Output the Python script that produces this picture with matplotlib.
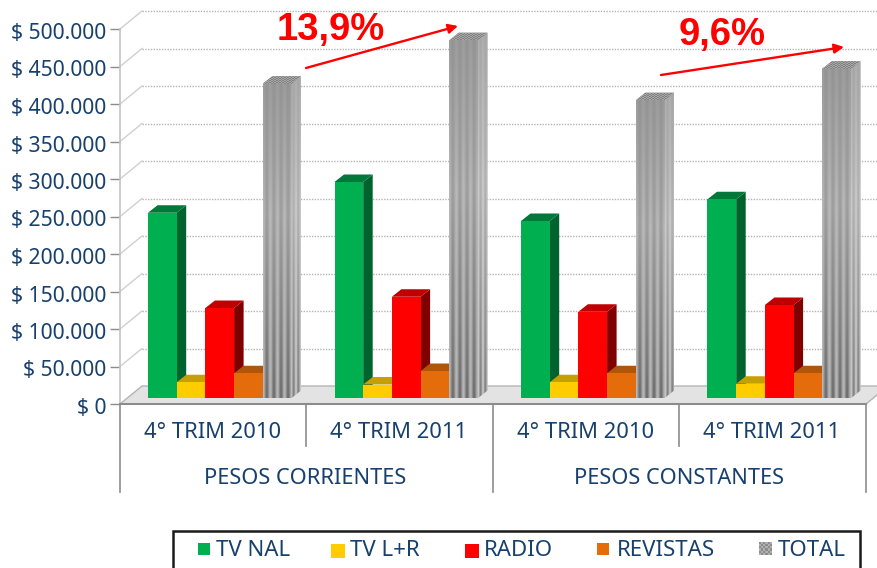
import matplotlib
matplotlib.use("Agg")
import matplotlib.pyplot as plt
from matplotlib.patches import Polygon, Rectangle
from matplotlib.transforms import ScaledTranslation
import numpy as np

# Data
periods = ["4° TRIM 2010", "4° TRIM 2011", "4° TRIM 2010", "4° TRIM 2011"]
groups = ["PESOS CORRIENTES", "PESOS CONSTANTES"]
series = ["TV NAL", "TV L+R", "RADIO", "REVISTAS", "TOTAL"]
tv_nal = [247000, 288000, 236000, 265000]
tv_lr = [21000, 18000, 21000, 19000]
radio = [120000, 135000, 115000, 124000]
revistas = [33000, 36000, 33000, 33000]
total = [419000, 477000, 397000, 439000]
y_ticks = [0, 50000, 100000, 150000, 200000, 250000, 300000, 350000, 400000, 450000, 500000]
y_labels = ["$ 0", "$ 50.000", "$ 100.000", "$ 150.000", "$ 200.000", "$ 250.000",
            "$ 300.000", "$ 350.000", "$ 400.000", "$ 450.000", "$ 500.000"]

colors = ["#00b050", "#ffcc00", "#ff0000", "#e46c0a", "#a6a6a6"]
sides = ["#00622c", "#b89400", "#800000", "#a5500a", "#bdbdbd"]
tops = ["#00783a", "#c4a000", "#c00000", "#b0560a", "#8c8c8c"]
text_color = "#17406e"
W, H = 878, 568
font = "Noto Sans"

fig = plt.figure(figsize=(W / 100, H / 100), dpi=100)
# axes box matches the front plane of the 3d chart
left, right, top_px, bottom_px = 120, 866, 29, 404
ax = fig.add_axes([left / W, 1 - bottom_px / H, (right - left) / W, (bottom_px - top_px) / H])
ax.set_xlim(0, 4)
ax.set_ylim(0, 500000)
ax.patch.set_visible(False)
for s in ax.spines.values():
    s.set_visible(False)

px_x = 4 / (right - left)
px_y = 500000 / (bottom_px - top_px)

# walls and floor
back_dx, back_dy = 22 * px_x, 18 * px_y
ax.add_patch(Polygon([(0, 0), (back_dx, back_dy), (4 + back_dx, back_dy), (4, 0)],
                     fc="#e3e3e3", ec="#b5b5b5", lw=1, clip_on=False, zorder=1))
for t in y_ticks[1:]:
    ax.plot([back_dx, 4 + back_dx], [t + back_dy, t + back_dy], color="#b4b4b4", lw=1,
            ls=(0, (1, 1)), clip_on=False, zorder=1)
    ax.plot([0, back_dx], [t, t + back_dy], color="#d0d0d0", lw=1, clip_on=False, zorder=1)

# bars
bar_w = 28.7 * px_x
first = 28 * px_x
base = 8000
dx, dy = 9.5 * px_x, 7.5 * px_y
values = [tv_nal, tv_lr, radio, revistas, total]


# grey texture of the TOTAL bars: dark top, lighter middle, stripes at the bottom
def make_texture(level, rows=80, cols=44, n_stripes=5):
    v = np.linspace(0, 1, rows)
    shade = level - 0.1 * np.abs(v - 0.42) / 0.58
    amp = 0.02 + 0.13 * v ** 1.5
    u = np.linspace(0, n_stripes * 2 * np.pi, cols)
    return (shade[:, None] + amp[:, None] * np.cos(u)[None, :]).clip(0, 1)


front_tex = make_texture(0.67, n_stripes=4)
side_tex = make_texture(0.74, cols=16, n_stripes=2)
dots = np.indices((8, 24)).sum(axis=0) % 2 * 0.16 + 0.5


def draw_bar(x0, v, j):
    x1 = x0 + bar_w
    y0, y1 = base, base + v
    z = 3 + j * 0.1
    side = Polygon([(x1, y0), (x1 + dx, y0 + dy), (x1 + dx, y1 + dy), (x1, y1)],
                   fc=sides[j], ec="none", zorder=z, clip_on=False)
    topf = Polygon([(x0, y1), (x0 + dx, y1 + dy), (x1 + dx, y1 + dy), (x1, y1)],
                   fc=tops[j], ec="none", zorder=z, clip_on=False)
    ax.add_patch(side)
    ax.add_patch(topf)
    ax.bar(x0, v, bar_w, bottom=base, align="edge", color=colors[j], zorder=z, clip_on=False)
    if j == 4:
        ax.imshow(front_tex, extent=[x0, x1, y0, y1], aspect="auto", cmap="gray", vmin=0, vmax=1,
                  interpolation="bilinear", zorder=z + 0.01, clip_on=False)
        im2 = ax.imshow(side_tex, extent=[x1, x1 + dx, y0, y1 + dy], aspect="auto", cmap="gray",
                        vmin=0, vmax=1, interpolation="bilinear", zorder=z + 0.01)
        im2.set_clip_path(side)
        im3 = ax.imshow(dots, extent=[x0, x1 + dx, y1, y1 + dy], aspect="auto", cmap="gray",
                        vmin=0, vmax=1, interpolation="nearest", zorder=z + 0.01)
        im3.set_clip_path(topf)


for i in range(4):
    for j in range(5):
        draw_bar(i + first + j * bar_w, values[j][i], j)
ax.set_xlim(0, 4)
ax.set_ylim(0, 500000)

# y axis
ax.set_yticks(y_ticks)
ax.set_yticklabels(y_labels, fontsize=15.2, color=text_color, family=font)
ax.tick_params(axis="y", length=7, width=1, color="#8c8c8c", pad=3)
down = ScaledTranslation(0, -2 / 100, fig.dpi_scale_trans)
for lab in ax.get_yticklabels():
    lab.set_transform(lab.get_transform() + down)
ax.set_xticks([])
ax.plot([0, 0], [0, 500000], color="#c4c4c4", lw=1.2, clip_on=False, zorder=2)

# multi level category axis
ax.plot([0, 4], [0, 0], color="#8c8c8c", lw=1.5, clip_on=False, zorder=2)
tr = ax.get_xaxis_transform()
for i in range(5):
    long_line = i % 2 == 0
    ax.plot([i, i], [0, -(492 - 404) / 375 if long_line else -(446 - 404) / 375], color="#8c8c8c", lw=1.2,
            transform=tr, clip_on=False)
for i, p in enumerate(periods):
    ax.text(i + 0.495, -(433 - 404) / 375, p, transform=tr, ha="center", va="center",
            fontsize=15.8, color=text_color, family=font)
for i, g in enumerate(groups):
    ax.text(2 * i + 0.995, -(479 - 404) / 375, g, transform=tr, ha="center", va="center",
            fontsize=15.7, color=text_color, family=font)

# growth annotations
over = fig.add_axes([0, 0, 1, 1])
over.axis("off")
over.text(331, 30, "13,9%", color="#ff0000", fontsize=27.5, fontweight="bold", ha="center", va="center",
          family="Liberation Sans")
over.text(722, 35, "9,6%", color="#ff0000", fontsize=27.5, fontweight="bold", ha="center", va="center",
          family="Liberation Sans")
for a, b in [((306, 68), (458, 26)), ((661, 75), (844, 47))]:
    over.annotate("", xy=b, xytext=a, arrowprops=dict(arrowstyle="-|>", color="#ff0000", lw=1.7, mutation_scale=14,
                                                      shrinkA=0, shrinkB=0))

# legend box
over.add_patch(Rectangle((173, 531), 687, 45, fc="white", ec="#1a1a1a", lw=1.8, zorder=1))
swatch_x = [198, 331, 465, 597, 759]
swatch_y = [543, 544, 544, 543, 542]
swatch_s = [12, 14, 14, 12, 13]
label_x = [216, 350, 484, 617, 778]
for sx, sy, ss, lx, name, c in zip(swatch_x, swatch_y, swatch_s, label_x, series, colors):
    if name == "TOTAL":
        over.imshow(np.indices((6, 6)).sum(axis=0) % 2 * 0.14 + 0.55, extent=[sx, sx + ss, sy + ss, sy],
                    aspect="auto", cmap="gray", vmin=0, vmax=1, interpolation="nearest", zorder=2)
    else:
        over.add_patch(Rectangle((sx, sy), ss, ss, fc=c, ec="none", zorder=2))
    over.text(lx, 551, name, color=text_color, fontsize=16, va="center", family=font, zorder=3)
over.set_xlim(0, W)
over.set_ylim(H, 0)

fig.savefig("out.png", dpi=100)
